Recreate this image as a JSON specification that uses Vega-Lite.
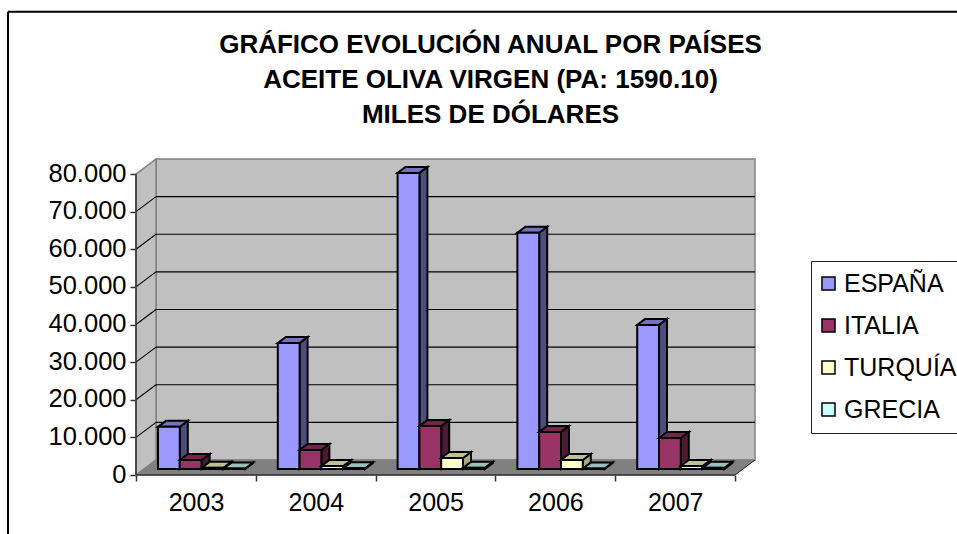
{
"$schema":"https://vega.github.io/schema/vega-lite/v6.json",
"width":619,"height":316,
"autosize":{"type":"none"},
"padding":{"left":136,"top":159,"right":202,"bottom":59},
"background":"white",
"config":{"view":{"stroke":null},"font":"Liberation Sans","axis":{"title":null,"grid":false}},
"title":{"text":["GRÁFICO EVOLUCIÓN ANUAL POR PAÍSES","ACEITE OLIVA VIRGEN (PA: 1590.10)","MILES DE DÓLARES"],"frame":"group","font":"Liberation Sans","fontSize":26,"fontWeight":"bold","color":"black","anchor":"middle","dx":45,"lineHeight":35,"offset":-117},
"datasets":{
"bars":[
{"year":2003,"country":"ESPAÑA","value":11200},{"year":2003,"country":"ITALIA","value":2400},{"year":2003,"country":"TURQUÍA","value":300},{"year":2003,"country":"GRECIA","value":100},
{"year":2004,"country":"ESPAÑA","value":33500},{"year":2004,"country":"ITALIA","value":5050},{"year":2004,"country":"TURQUÍA","value":800},{"year":2004,"country":"GRECIA","value":200},
{"year":2005,"country":"ESPAÑA","value":78700},{"year":2005,"country":"ITALIA","value":11400},{"year":2005,"country":"TURQUÍA","value":2900},{"year":2005,"country":"GRECIA","value":300},
{"year":2006,"country":"ESPAÑA","value":62800},{"year":2006,"country":"ITALIA","value":9850},{"year":2006,"country":"TURQUÍA","value":2400},{"year":2006,"country":"GRECIA","value":100},
{"year":2007,"country":"ESPAÑA","value":38300},{"year":2007,"country":"ITALIA","value":8250},{"year":2007,"country":"TURQUÍA","value":800},{"year":2007,"country":"GRECIA","value":300}
]},
"layer":[
{"data":{"values":[{"frame":1}]},"mark":{"type":"rect","fill":"#C0C0C0","stroke":"#808080","strokeWidth":1.5},
 "encoding":{
  "x":{"datum":0.167,"type":"quantitative","scale":{"domain":[0,5.167],"nice":false,"zero":false},
   "axis":{"values":[0,1,2,3,4,5],"tickCount":20,"title":null,"domain":false,"grid":false,"tickColor":"#333333","tickSize":6,"tickWidth":1.5,"labelOffset":60,"labelFontSize":25,"labelColor":"black","labelPadding":9,"labelFont":"Liberation Sans","labelFlush":false,"labelOverlap":false,"labelExpr":"datum.value<5?''+(2003+datum.value):''"}},
  "x2":{"datum":5.167},
  "y":{"datum":4000,"type":"quantitative","scale":{"domain":[0,84000],"nice":false,"zero":false},
   "axis":{"values":[0,10000,20000,30000,40000,50000,60000,70000,80000],"tickCount":20,"title":null,"domain":false,"grid":false,"tickColor":"#333333","tickSize":6,"tickWidth":1.5,"labelFontSize":25.5,"labelColor":"black","labelPadding":4,"labelOffset":-1,"labelFont":"Liberation Sans","labelFlush":false,"labelOverlap":false,"labelExpr":"replace(format(datum.value,','),',','.')"}},
  "y2":{"datum":84000}}},
{"data":{"values":[{"edge":0},{"edge":1}]},
 "transform":[{"calculate":"datum.edge*0.167","as":"sx"},{"calculate":"datum.edge*4000","as":"sy0"},{"calculate":"80000+datum.edge*4000","as":"sy1"}],
 "mark":{"type":"area","fill":"#C0C0C0","stroke":"#808080","strokeWidth":1.5},
 "encoding":{"x":{"field":"sx","type":"quantitative"},"y":{"field":"sy1","type":"quantitative"},"y2":{"field":"sy0"}}},
{"data":{"values":[{"edge":0},{"edge":1}]},
 "transform":[{"calculate":"datum.edge*4000","as":"fy"},{"calculate":"datum.edge*0.167","as":"fx0"},{"calculate":"5+datum.edge*0.167","as":"fx1"}],
 "mark":{"type":"area","orient":"horizontal","fill":"#808080","stroke":"#808080","strokeWidth":1},
 "encoding":{"y":{"field":"fy","type":"quantitative"},"x":{"field":"fx0","type":"quantitative"},"x2":{"field":"fx1"}}},
{"data":{"values":[{"level":10000},{"level":20000},{"level":30000},{"level":40000},{"level":50000},{"level":60000},{"level":70000}]},
 "transform":[{"calculate":"datum.level+4000","as":"back"}],
 "layer":[
  {"mark":{"type":"rule","color":"#000000","strokeWidth":1.1},"encoding":{"x":{"datum":0.167,"type":"quantitative"},"x2":{"datum":5.167},"y":{"field":"back","type":"quantitative"}}},
  {"mark":{"type":"rule","color":"#000000","strokeWidth":1.1},"encoding":{"x":{"datum":0,"type":"quantitative"},"x2":{"datum":0.167},"y":{"field":"level","type":"quantitative"},"y2":{"field":"back"}}}
 ]},
{"data":{"values":[{"frame":1}]},
 "layer":[
  {"mark":{"type":"rule","color":"#333333","strokeWidth":1.5},"encoding":{"x":{"datum":0,"type":"quantitative"},"y":{"datum":0,"type":"quantitative"},"y2":{"datum":80000}}},
  {"mark":{"type":"rule","color":"#333333","strokeWidth":1.5},"encoding":{"x":{"datum":0,"type":"quantitative"},"x2":{"datum":5},"y":{"datum":0,"type":"quantitative"}}},
  {"mark":{"type":"rule","color":"#333333","strokeWidth":1},"encoding":{"x":{"datum":5,"type":"quantitative"},"x2":{"datum":5.167},"y":{"datum":0,"type":"quantitative"},"y2":{"datum":4000}}},
  {"mark":{"type":"rule","color":"#000000","strokeWidth":2},"encoding":{"x":{"datum":-1.0684,"type":"quantitative"},"y":{"datum":-17300,"type":"quantitative"},"y2":{"datum":123140}}},
  {"mark":{"type":"rule","color":"#000000","strokeWidth":2},"encoding":{"x":{"datum":-1.0684,"type":"quantitative"},"x2":{"datum":7},"y":{"datum":123140,"type":"quantitative"}}}
 ]},
{"data":{"name":"bars"},
 "transform":[
  {"calculate":"indexof(['ESPAÑA','ITALIA','TURQUÍA','GRECIA'],datum.country)","as":"ci"},
  {"calculate":"(datum.year-2003)+0.1836+datum.ci*0.182","as":"xl"},
  {"calculate":"datum.xl+0.182","as":"xr"},
  {"calculate":"datum.value+1600","as":"yt"},
  {"calculate":"[0,1]","as":"t"},
  {"flatten":["t"]},
  {"calculate":"datum.xr+datum.t*0.0668","as":"sx"},
  {"calculate":"1600+datum.t*1600","as":"sy0"},
  {"calculate":"datum.yt+datum.t*1600","as":"sy1"},
  {"calculate":"datum.xl+datum.t*0.0668","as":"tx0"},
  {"calculate":"datum.xr+datum.t*0.0668","as":"tx1"}
 ],
 "layer":[
  {"transform":[{"filter":"datum.country==='ESPAÑA'"}],"mark":{"type":"area","fill":"#4D4D80","stroke":"black","strokeWidth":2},"encoding":{"x":{"field":"sx","type":"quantitative"},"y":{"field":"sy1","type":"quantitative"},"y2":{"field":"sy0"},"detail":{"field":"year"}}},
  {"transform":[{"filter":"datum.country==='ESPAÑA'"}],"mark":{"type":"area","orient":"horizontal","fill":"#7373BF","stroke":"black","strokeWidth":2},"encoding":{"y":{"field":"sy1","type":"quantitative"},"x":{"field":"tx0","type":"quantitative"},"x2":{"field":"tx1"},"detail":{"field":"year"}}},
  {"transform":[{"filter":"datum.country==='ESPAÑA' && datum.t===0"}],"mark":{"type":"rect","stroke":"black","strokeWidth":2},"encoding":{"x":{"field":"xl","type":"quantitative"},"x2":{"field":"xr"},"y":{"field":"yt","type":"quantitative"},"y2":{"datum":1600},
    "color":{"field":"country","type":"nominal","scale":{"domain":["ESPAÑA","ITALIA","TURQUÍA","GRECIA"],"range":["#9999FF","#993366","#FFFFCC","#CCFFFF"]},
     "legend":{"title":null,"orient":"none","legendX":675,"legendY":102,"strokeColor":"#222222","fillColor":"white","padding":10,"symbolType":"square","symbolSize":170,"symbolOffset":-5,"symbolStrokeColor":"black","symbolStrokeWidth":1.5,"labelFontSize":25,"labelColor":"black","labelFont":"Liberation Sans","labelLimit":200,"rowPadding":16,"labelOffset":3}}}},
  {"transform":[{"filter":"datum.country==='ITALIA'"}],"mark":{"type":"area","fill":"#4D1A33","stroke":"black","strokeWidth":2},"encoding":{"x":{"field":"sx","type":"quantitative"},"y":{"field":"sy1","type":"quantitative"},"y2":{"field":"sy0"},"detail":{"field":"year"}}},
  {"transform":[{"filter":"datum.country==='ITALIA'"}],"mark":{"type":"area","orient":"horizontal","fill":"#73264D","stroke":"black","strokeWidth":2},"encoding":{"y":{"field":"sy1","type":"quantitative"},"x":{"field":"tx0","type":"quantitative"},"x2":{"field":"tx1"},"detail":{"field":"year"}}},
  {"transform":[{"filter":"datum.country==='ITALIA' && datum.t===0"}],"mark":{"type":"rect","stroke":"black","strokeWidth":2},"encoding":{"x":{"field":"xl","type":"quantitative"},"x2":{"field":"xr"},"y":{"field":"yt","type":"quantitative"},"y2":{"datum":1600},"color":{"field":"country","type":"nominal"}}},
  {"transform":[{"filter":"datum.country==='TURQUÍA'"}],"mark":{"type":"area","fill":"#A8A880","stroke":"black","strokeWidth":2},"encoding":{"x":{"field":"sx","type":"quantitative"},"y":{"field":"sy1","type":"quantitative"},"y2":{"field":"sy0"},"detail":{"field":"year"}}},
  {"transform":[{"filter":"datum.country==='TURQUÍA'"}],"mark":{"type":"area","orient":"horizontal","fill":"#BFBF99","stroke":"black","strokeWidth":2},"encoding":{"y":{"field":"sy1","type":"quantitative"},"x":{"field":"tx0","type":"quantitative"},"x2":{"field":"tx1"},"detail":{"field":"year"}}},
  {"transform":[{"filter":"datum.country==='TURQUÍA' && datum.t===0"}],"mark":{"type":"rect","stroke":"black","strokeWidth":2},"encoding":{"x":{"field":"xl","type":"quantitative"},"x2":{"field":"xr"},"y":{"field":"yt","type":"quantitative"},"y2":{"datum":1600},"color":{"field":"country","type":"nominal"}}},
  {"transform":[{"filter":"datum.country==='GRECIA'"}],"mark":{"type":"area","fill":"#668080","stroke":"black","strokeWidth":2},"encoding":{"x":{"field":"sx","type":"quantitative"},"y":{"field":"sy1","type":"quantitative"},"y2":{"field":"sy0"},"detail":{"field":"year"}}},
  {"transform":[{"filter":"datum.country==='GRECIA'"}],"mark":{"type":"area","orient":"horizontal","fill":"#99BFBF","stroke":"black","strokeWidth":2},"encoding":{"y":{"field":"sy1","type":"quantitative"},"x":{"field":"tx0","type":"quantitative"},"x2":{"field":"tx1"},"detail":{"field":"year"}}},
  {"transform":[{"filter":"datum.country==='GRECIA' && datum.t===0"}],"mark":{"type":"rect","stroke":"black","strokeWidth":2},"encoding":{"x":{"field":"xl","type":"quantitative"},"x2":{"field":"xr"},"y":{"field":"yt","type":"quantitative"},"y2":{"datum":1600},"color":{"field":"country","type":"nominal"}}}
 ]}
]
}
